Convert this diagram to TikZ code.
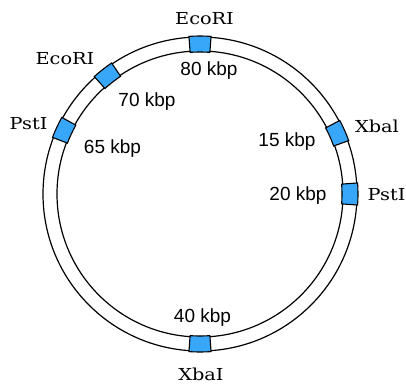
\documentclass[tikz,border=0pt]{standalone}
\usepackage{fontspec}
\usepackage{graphicx}
\setsansfont{Liberation Sans}
\newfontfamily\enzfont{DejaVu Serif}
\usetikzlibrary{calc}
\definecolor{siteblue}{RGB}{56,167,250}
\def\sitebox(#1){\draw[line width=1.1pt, fill=siteblue] (#1-4:142pt) -- (#1-4:158pt) arc (#1-4:#1+4:158pt) -- (#1+4:142pt) arc (#1+4:#1-4:142pt) -- cycle;}
\newcommand{\enz}[1]{\scalebox{1.17}[1]{#1}}
\tikzset{
	enzyme/.style={font=\enzfont\fontsize{16.5}{19}\selectfont},
	kbp/.style={font=\sffamily\fontsize{19}{21}\selectfont}
}

\begin{document}
\begin{tikzpicture}
			%%%%% START %%%%%
			\useasboundingbox (-200pt, -189pt) rectangle (206pt, 194pt);
			
			\draw[line width=1.2pt] (0, 0) circle (157pt);
			\draw[line width=1.2pt] (0, 0) circle (143pt);
			
			\sitebox(90)
			\sitebox(128)
			\sitebox(155)
			\sitebox(23.75)
			\sitebox(0)
			\sitebox(270)
			
			\node[enzyme] (eco80) at (4.5pt, 175.5pt) {\enz{EcoRI}};
			\node[kbp] (k80) at (9pt, 123pt) {80 kbp};
			
			\node[enzyme] (eco70) at (-135pt, 135.5pt) {\enz{EcoRI}};
			\node[kbp] (k70) at (-53pt, 92pt) {70 kbp};
			
			\node[enzyme] (pst65) at (-171.5pt, 70pt) {\enz{PstI}};
			\node[kbp] (k65) at (-87.5pt, 45pt) {65 kbp};
			
			\node[enzyme] (xba15) at (177pt, 67.5pt) {\enz{Xbal}};
			\node[kbp] (k15) at (87pt, 52pt) {15 kbp};
			
			\node[kbp] (k20) at (98pt, -1.5pt) {20 kbp};
			\node[enzyme] (pst20) at (186.5pt, -0.5pt) {\enz{PstI}};
			
			\node[kbp] (k40) at (2.5pt, -124pt) {40 kbp};
			\node[enzyme] (xba40) at (1pt, -180pt) {\enz{XbaI}};
			
			%%%%% END %%%%%
\end{tikzpicture}
\end{document}
